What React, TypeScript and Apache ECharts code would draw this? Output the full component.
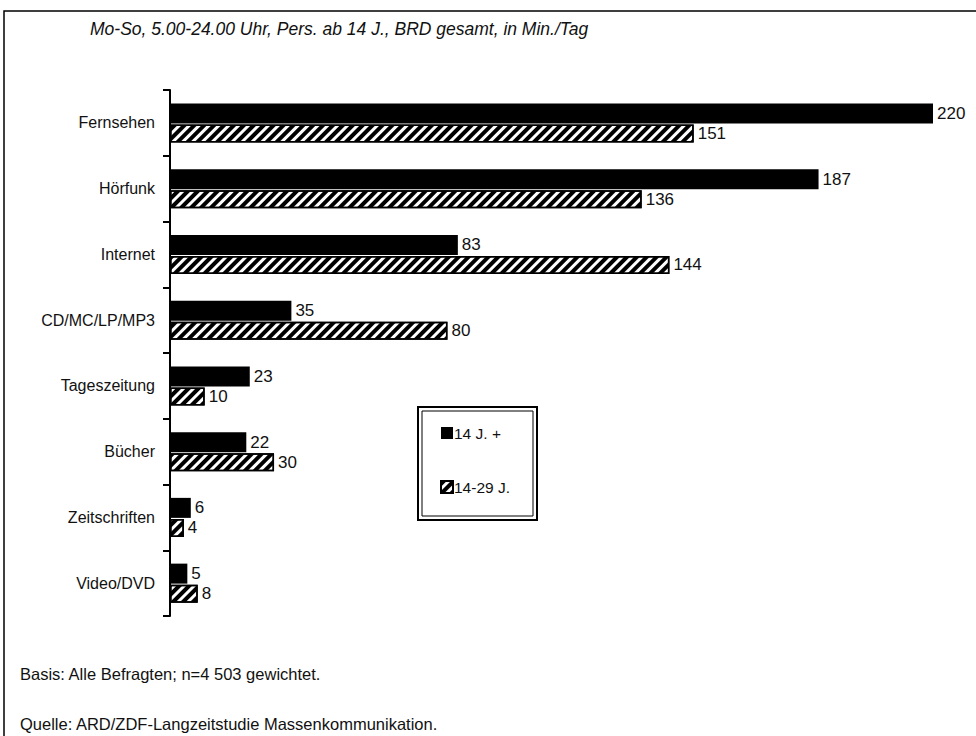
import React, { useEffect, useRef } from "react";
import * as echarts from "echarts";

const categories = [
  "Fernsehen",
  "Hörfunk",
  "Internet",
  "CD/MC/LP/MP3",
  "Tageszeitung",
  "Bücher",
  "Zeitschriften",
  "Video/DVD",
];
const seriesAllName = "14 J. +";
const seriesYoungName = "14-29 J.";
const valuesAll = [220, 187, 83, 35, 23, 22, 6, 5];
const valuesYoung = [151, 136, 144, 80, 10, 30, 4, 8];
const titleText = "Mo-So, 5.00-24.00 Uhr, Pers. ab 14 J., BRD gesamt, in Min./Tag";
const footBasis = "Basis: Alle Befragten; n=4 503 gewichtet.";
const footSource = "Quelle: ARD/ZDF-Langzeitstudie Massenkommunikation.";

const FONT = "'Liberation Sans', Arial, sans-serif";

export default function App() {
  const ref = useRef<HTMLDivElement>(null);
  useEffect(() => {
    if (!ref.current) return;
    const chart = echarts.init(ref.current, null, { renderer: "svg" });
    chart.setOption({
      animation: false,
      backgroundColor: "#fff",
      textStyle: { fontFamily: FONT },
      grid: { left: 170, top: 90, width: 763, height: 526, containLabel: false },
      xAxis: { type: "value", min: 0, max: 220, show: false },
      yAxis: {
        type: "category",
        inverse: true,
        data: categories,
        axisLine: { show: true, lineStyle: { color: "#000", width: 2 } },
        axisTick: { show: true, length: 7, lineStyle: { color: "#000", width: 2 } },
        axisLabel: { margin: 15, fontSize: 16, color: "#111", fontFamily: FONT },
      },
      legend: {
        orient: "vertical",
        left: 435,
        top: 420,
        itemGap: 38,
        itemWidth: 12,
        itemHeight: 12,
        icon: "rect",
        textStyle: { fontSize: 15.5, color: "#111", fontFamily: FONT, padding: [0, 0, 0, -4] },
        data: [seriesAllName, seriesYoungName],
      },
      series: [
        {
          name: seriesAllName,
          type: "bar",
          data: valuesAll,
          barWidth: 20,
          barGap: "5%",
          itemStyle: { color: "#000" },
          label: { show: true, position: "right", distance: 4, fontSize: 17, color: "#111", fontFamily: FONT },
        },
        {
          name: seriesYoungName,
          type: "bar",
          data: valuesYoung,
          barWidth: 18,
          itemStyle: {
            color: "#fff",
            borderColor: "#000",
            borderWidth: 1.5,
            decal: {
              symbol: "rect",
              symbolSize: 1,
              dashArrayX: [1, 0],
              dashArrayY: [4, 3],
              rotation: -Math.PI / 4,
              color: "#000",
            },
          },
          label: { show: true, position: "right", distance: 4, fontSize: 17, color: "#111", fontFamily: FONT },
        },
      ],
      graphic: [
        {
          type: "rect",
          silent: true,
          shape: { x: 4, y: 11, width: 1000, height: 800 },
          style: { fill: "none", stroke: "#000", lineWidth: 1.5 },
        },
        {
          type: "text",
          left: 90,
          top: 20,
          style: { text: titleText, fontSize: 17.5, fontStyle: "italic", fill: "#111", fontFamily: FONT },
        },
        {
          type: "text",
          left: 20,
          top: 665,
          style: { text: footBasis, fontSize: 16.5, fill: "#111", fontFamily: FONT },
        },
        {
          type: "text",
          left: 20,
          top: 715,
          style: { text: footSource, fontSize: 16.5, fill: "#111", fontFamily: FONT },
        },
        {
          type: "rect",
          silent: true,
          shape: { x: 418, y: 407, width: 119, height: 113 },
          style: { fill: "none", stroke: "#000", lineWidth: 2 },
        },
        {
          type: "rect",
          silent: true,
          shape: { x: 422, y: 411, width: 111, height: 105 },
          style: { fill: "none", stroke: "#000", lineWidth: 1 },
        },
      ],
    });
    return () => chart.dispose();
  }, []);
  return (
    <div
      ref={ref}
      style={{ position: "fixed", left: 0, top: 0, width: 976, height: 736, background: "#fff" }}
    />
  );
}
